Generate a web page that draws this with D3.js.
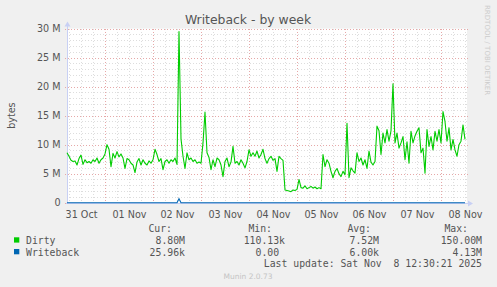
<!DOCTYPE html>
<html><head><meta charset="utf-8">
<script src="https://cdn.jsdelivr.net/npm/d3@7"></script>
<style>
html,body{margin:0;padding:0;background:#F0F0F0;}
svg{display:block;}
text{white-space:pre;}
</style></head><body>
<svg id="chart" width="497" height="287"></svg>
<script>
// ---------------- DATA ----------------
const title = "Writeback - by week";
const yLabel = "bytes";
const startTime = "2025-10-31T05:00:00Z";
const endTime = "2025-11-08T13:00:00Z";
// Dirty, in M bytes, one value per hour from startTime
const dirtyValues = [
  8.6, 8.0, 7.3, 7.1, 7.2, 6.5, 7.6, 8.2, 6.6, 7.4, 6.9, 7.1, 6.8, 7.4, 7.1, 7.7, 6.8, 7.4, 7.7, 8.4,
  10.0, 9.2, 6.2, 8.5, 7.7, 8.8, 7.9, 8.4, 7.7, 5.9, 7.6,
  7.4, 6.8, 6.5, 5.2, 7.0, 7.6, 6.5, 7.4, 6.8, 6.5, 7.2, 6.8, 7.4, 9.2, 8.3, 7.1, 7.6, 5.7, 7.1, 7.4,
  6.8, 7.4, 7.1, 7.7, 6.6, 29.5, 11.0, 8.0, 5.9, 8.6, 7.4, 7.7, 7.1, 7.4, 6.8, 7.0, 6.8,
  10.3, 15.6, 8.6, 7.8, 5.7, 7.4, 6.2, 7.7, 7.4, 6.5, 4.5, 7.1, 7.7, 6.2, 7.0, 9.7, 6.8, 7.1, 6.5, 7.4,
  6.8, 6.0, 7.1, 9.1, 8.0, 8.6, 8.0, 8.9, 7.7, 8.3, 9.2, 7.6,
  6.8, 7.6, 8.0, 7.3, 7.6, 5.4, 8.0, 7.6, 7.3, 2.2, 2.1, 2.0, 1.9, 2.2, 2.1, 2.3, 4.0, 2.6, 2.5, 2.9,
  2.4, 2.6, 2.8, 2.5, 2.7, 2.4, 2.6, 2.4, 8.3, 6.2, 7.4, 6.8, 5.4, 4.3,
  5.4, 5.9, 5.0, 4.5, 5.4, 4.8, 13.7, 4.3, 6.0, 5.5, 5.1, 8.6, 7.1, 7.7, 6.5, 7.4, 5.9, 8.9, 7.0, 6.5,
  7.1, 13.2, 12.4, 8.3, 12.0, 10.3, 12.6, 10.6, 12.4, 20.5, 10.3, 12.0, 9.4, 10.3,
  11.4, 7.4, 10.5, 6.8, 12.3, 10.3, 11.5, 12.3, 12.9, 8.6, 9.4, 5.1, 12.6, 9.7, 11.4, 9.1, 12.3, 10.6,
  12.6, 10.3, 15.7, 14.0, 10.6, 12.9, 9.1, 10.9, 9.1, 8.0, 10.0, 10.6, 13.4, 10.9
];
// Writeback, [hour offset from startTime, M bytes]
const writebackPoints = [[0, 0], [55, 0], [56, 0.7], [57, 0], [199, 0]];
const yTicks = [0, 5, 10, 15, 20, 25, 30];
const yTickLabels = ["0", "5 M", "10 M", "15 M", "20 M", "25 M", "30 M"];
const xTickDates = ["2025-10-31T12:00:00Z", "2025-11-01T12:00:00Z", "2025-11-02T12:00:00Z",
  "2025-11-03T12:00:00Z", "2025-11-04T12:00:00Z", "2025-11-05T12:00:00Z", "2025-11-06T12:00:00Z",
  "2025-11-07T12:00:00Z", "2025-11-08T12:00:00Z"];
const xTickLabels = ["31 Oct", "01 Nov", "02 Nov", "03 Nov", "04 Nov", "05 Nov", "06 Nov", "07 Nov", "08 Nov"];
const legendSeries = ["Dirty", "Writeback"];
const legendHeaders = ["Cur:", "Min:", "Avg:", "Max:"];
const legendRows = [
  ["8.80M", "110.13k", "7.52M", "150.00M"],
  ["25.96k", "0.00 ", "6.00k", "4.13M"]
];
const lastUpdate = "Last update: Sat Nov  8 12:30:21 2025";
const footer = "Munin 2.0.73";
const watermark = "RRDTOOL / TOBI OETIKER";

// ---------------- STYLE ----------------
const seriesColors = ["#00CC00", "#0066B3"];
const textColor = "#555555";
const axisColor = "#C8D0F4";
const minorGridColor = "#DDDDDD";
const majorGridColor = "#E6A8A8";
const sansFont = "'DejaVu Sans', sans-serif";
const monoFont = "'DejaVu Sans Mono', monospace";

// ---------------- CHART ----------------
const svg = d3.select("#chart");
svg.append("rect").attr("width", 497).attr("height", 287).attr("fill", "#F0F0F0");

const plot = {left: 67, right: 467, top: 28.6, bottom: 202.7};
const t0 = new Date(startTime), t1 = new Date(endTime);
const x = d3.scaleUtc().domain([t0, t1]).range([plot.left, plot.right]);
const y = d3.scaleLinear().domain([0, 30]).range([plot.bottom, plot.top]);

svg.append("rect").attr("x", plot.left).attr("y", plot.top)
  .attr("width", plot.right - plot.left).attr("height", plot.bottom - plot.top)
  .attr("fill", "#FFFFFF");

const grid = svg.append("g").attr("shape-rendering", "crispEdges");
// minor horizontal
d3.range(0, 31, 1).filter(v => v % 5 !== 0).forEach(v => {
  grid.append("line").attr("x1", plot.left).attr("x2", plot.right)
    .attr("y1", Math.round(y(v)) + 0.5).attr("y2", Math.round(y(v)) + 0.5)
    .attr("stroke", minorGridColor).attr("stroke-dasharray", "1,2");
});
// minor vertical every 6h
d3.utcHour.every(6).range(t0, t1).filter(d => d.getUTCHours() !== 0).forEach(d => {
  grid.append("line").attr("y1", plot.top).attr("y2", plot.bottom)
    .attr("x1", Math.round(x(d)) + 0.5).attr("x2", Math.round(x(d)) + 0.5)
    .attr("stroke", minorGridColor).attr("stroke-dasharray", "1,2");
});
// major horizontal
yTicks.forEach(v => {
  grid.append("line").attr("x1", plot.left - 2).attr("x2", plot.right + 2)
    .attr("y1", Math.round(y(v)) + 0.5).attr("y2", Math.round(y(v)) + 0.5)
    .attr("stroke", majorGridColor).attr("stroke-dasharray", "1,2");
});
// major vertical at midnight
d3.utcDay.range(t0, t1).forEach(d => {
  grid.append("line").attr("y1", plot.top).attr("y2", plot.bottom + 2)
    .attr("x1", Math.round(x(d)) + 0.5).attr("x2", Math.round(x(d)) + 0.5)
    .attr("stroke", majorGridColor).attr("stroke-dasharray", "1,2");
});

// axes
const yAxis = d3.axisLeft(y).tickValues(yTicks).tickSize(0).tickPadding(6)
  .tickFormat((d, i) => yTickLabels[i]);
const gy = svg.append("g").attr("transform", `translate(${plot.left - 0.5},0)`).call(yAxis);
gy.select(".domain").remove();
gy.selectAll("text").attr("font-family", sansFont).attr("font-size", "9.6px").attr("fill", textColor);

const xAxis = d3.axisBottom(x).tickValues(xTickDates.map(s => new Date(s))).tickSize(0).tickPadding(8)
  .tickFormat((d, i) => xTickLabels[i]);
const gx = svg.append("g").attr("transform", `translate(0,${plot.bottom})`).call(xAxis);
gx.select(".domain").remove();
gx.selectAll("text").attr("font-family", sansFont).attr("font-size", "9.6px").attr("fill", textColor);

// axis lines & arrows
svg.append("line").attr("x1", plot.left + 0.5).attr("x2", plot.left + 0.5)
  .attr("y1", plot.bottom + 1).attr("y2", plot.top - 3).attr("stroke", axisColor);
svg.append("line").attr("x1", plot.left - 1).attr("x2", plot.right + 2)
  .attr("y1", Math.round(plot.bottom) + 0.5).attr("y2", Math.round(plot.bottom) + 0.5).attr("stroke", axisColor);
svg.append("path").attr("d", `M${plot.left - 2.5},${plot.top - 2} L${plot.left + 3.5},${plot.top - 2} L${plot.left + 0.5},${plot.top - 7} Z`)
  .attr("fill", axisColor);
const by = Math.round(plot.bottom) + 0.5;
svg.append("path").attr("d", `M${plot.right + 1},${by - 3} L${plot.right + 1},${by + 3} L${plot.right + 6},${by} Z`)
  .attr("fill", axisColor);

// series
const line = d3.line().x(d => x(d[0])).y(d => y(d[1]));
const dirtyData = dirtyValues.map((v, i) => [d3.utcHour.offset(t0, i), v]);
svg.append("path").datum(dirtyData).attr("d", line)
  .attr("fill", "none").attr("stroke", seriesColors[0]).attr("stroke-width", 1.1).attr("stroke-linejoin", "round");
const wbData = writebackPoints.map(p => [d3.utcHour.offset(t0, p[0]), p[1]]);
svg.append("path").datum(wbData).attr("d", line)
  .attr("fill", "none").attr("stroke", seriesColors[1]).attr("stroke-width", 1.1);

// title
svg.append("text").attr("x", 248).attr("y", 24).attr("text-anchor", "middle")
  .attr("font-family", sansFont).attr("font-size", "12.4px").attr("fill", textColor).text(title);
// y label
svg.append("text").attr("transform", `translate(15,${(plot.top + plot.bottom) / 2}) rotate(-90)`)
  .attr("text-anchor", "middle").attr("font-family", sansFont).attr("font-size", "9.6px")
  .attr("fill", textColor).text(yLabel);
// watermark
svg.append("text").attr("transform", "translate(485,5) rotate(90)")
  .attr("font-family", sansFont).attr("font-size", "7px").attr("fill", "#CCCCCC").text(watermark);

// legend
const colEnds = [185, 285, 379, 482];
const headerEnds = [172, 272, 371, 468];
const lg = svg.append("g").attr("font-family", monoFont).attr("font-size", "9.8px").attr("fill", textColor);
legendHeaders.forEach((h, i) => {
  lg.append("text").attr("x", headerEnds[i]).attr("y", 231.5).attr("text-anchor", "end").text(h);
});
legendSeries.forEach((s, r) => {
  const by0 = 244 + r * 11.7;
  lg.append("rect").attr("x", 14).attr("y", by0 - 6.7).attr("width", 5.3).attr("height", 5.3).attr("fill", seriesColors[r]);
  lg.append("text").attr("x", 26).attr("y", by0).text(s);
  legendRows[r].forEach((v, c) => {
    lg.append("text").attr("x", colEnds[c]).attr("y", by0).attr("text-anchor", "end").text(v);
  });
});
lg.append("text").attr("x", 482).attr("y", 267).attr("text-anchor", "end").text(lastUpdate);
svg.append("text").attr("x", 248).attr("y", 279).attr("text-anchor", "middle")
  .attr("font-family", sansFont).attr("font-size", "7.5px").attr("fill", "#C4C4C4").text(footer);
</script>
</body></html>
